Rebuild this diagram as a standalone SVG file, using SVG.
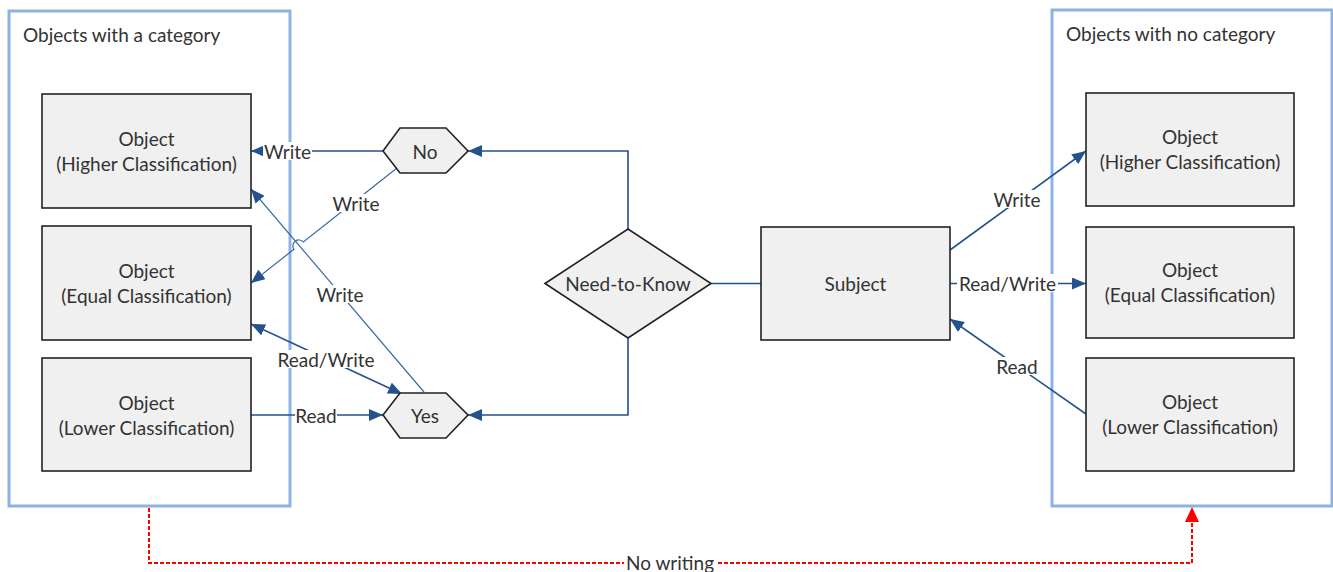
<svg xmlns="http://www.w3.org/2000/svg" width="1333" height="572" viewBox="0 0 1333 572">
  <defs>
    <marker id="arrow" viewBox="0 0 14 12" refX="14" refY="6" markerWidth="14" markerHeight="12" markerUnits="userSpaceOnUse" orient="auto-start-reverse">
      <path d="M0,0 L14,6 L0,12 Z" fill="#24528c"/>
    </marker>
  </defs>
  <style>
    .container { fill: #ffffff; stroke: #8db3e2; stroke-width: 3; }
    .box { fill: #f0f0f0; stroke: #222222; stroke-width: 1.6; }
    .txt { font-family: Lato, "Liberation Sans", sans-serif; font-size: 19px; fill: #333333; text-anchor: middle; dominant-baseline: central; }
    .title { font-family: Lato, "Liberation Sans", sans-serif; font-size: 19px; fill: #333333; }
    .conn { fill: none; stroke: #24528c; stroke-width: 1.6; }
    .thin { fill: none; stroke: #3a69a5; stroke-width: 1.2; }
    .nowrite { fill: none; stroke: #ff0000; stroke-width: 2; stroke-dasharray: 4 2; }
    .lbl { fill: #ffffff; }
  </style>

  <!-- containers -->
  <g id="group-with-category">
    <rect class="container" x="9" y="11" width="281" height="495"/>
    <text class="title" x="23" y="42">Objects with a category</text>
  </g>
  <g id="group-no-category">
    <rect class="container" x="1052" y="10" width="280" height="496"/>
    <text class="title" x="1066" y="41">Objects with no category</text>
  </g>

  <!-- connectors -->
  <g id="connectors">
    <!-- decision branches -->
    <path class="conn" d="M628,229 V151 H468" marker-end="url(#arrow)"/>
    <path class="conn" d="M628,338 V415 H468" marker-end="url(#arrow)"/>
    <path class="conn" d="M711,283.5 H761"/>

    <!-- left side -->
    <path class="conn" d="M383,151 H251" marker-end="url(#arrow)"/>
    <path class="thin" d="M397,168 L303.3,241.9 A6,6 0 0 0 293.9,249.3 L251,283" marker-end="url(#arrow)"/>
    <path class="thin" d="M424,392 L251,189" marker-end="url(#arrow)"/>
    <path class="conn" d="M251,324 L402,394" marker-start="url(#arrow)" marker-end="url(#arrow)"/>
    <path class="conn" d="M251,415 H383" marker-end="url(#arrow)"/>

    <!-- right side -->
    <path class="conn" d="M950,250 L1086,151" marker-end="url(#arrow)"/>
    <path class="conn" d="M950,283.5 H1086" marker-end="url(#arrow)"/>
    <path class="conn" d="M1086,414 L950,319" marker-end="url(#arrow)"/>

    <!-- no writing -->
    <path class="nowrite" d="M149,508 V563 H1192 V522"/>
    <path d="M1185,522 L1192,507 L1199,522 Z" fill="#ff0000"/>

    <!-- labels -->
    <rect class="lbl" x="263" y="142" width="49" height="18"/>
    <text class="txt" x="287.5" y="151">Write</text>
    <rect class="lbl" x="332" y="194" width="48" height="18"/>
    <text class="txt" x="356" y="203">Write</text>
    <rect class="lbl" x="316" y="285" width="48" height="18"/>
    <text class="txt" x="340" y="294">Write</text>
    <rect class="lbl" x="276" y="350" width="100" height="18"/>
    <text class="txt" x="326" y="359">Read/Write</text>
    <rect class="lbl" x="295" y="406" width="42" height="18"/>
    <text class="txt" x="316" y="415">Read</text>
    <rect class="lbl" x="993" y="190" width="48" height="18"/>
    <text class="txt" x="1017" y="199">Write</text>
    <rect class="lbl" x="957" y="274" width="101" height="18"/>
    <text class="txt" x="1007.5" y="283">Read/Write</text>
    <rect class="lbl" x="996" y="357" width="42" height="18"/>
    <text class="txt" x="1017" y="366">Read</text>
    <rect class="lbl" x="624" y="554" width="92" height="18"/>
    <text class="txt" x="670" y="562">No writing</text>
  </g>

  <!-- objects with a category -->
  <g id="left-higher">
    <rect class="box" x="42" y="94" width="209" height="114"/>
    <text class="txt" x="146.5" y="138">Object</text>
    <text class="txt" x="146.5" y="163">(Higher Classification)</text>
  </g>
  <g id="left-equal">
    <rect class="box" x="42" y="226" width="209" height="114"/>
    <text class="txt" x="146.5" y="270">Object</text>
    <text class="txt" x="146.5" y="295">(Equal Classification)</text>
  </g>
  <g id="left-lower">
    <rect class="box" x="42" y="358" width="209" height="113"/>
    <text class="txt" x="146.5" y="402">Object</text>
    <text class="txt" x="146.5" y="427">(Lower Classification)</text>
  </g>

  <!-- decision nodes -->
  <g id="decision-no">
    <polygon class="box" points="383,151 400,128 446,128 468,151 446,173 400,173"/>
    <text class="txt" x="425" y="151">No</text>
  </g>
  <g id="decision-yes">
    <polygon class="box" points="383,415 400,393 446,393 468,415 446,438 400,438"/>
    <text class="txt" x="425" y="415">Yes</text>
  </g>
  <g id="need-to-know">
    <polygon class="box" points="545,283.5 628,229 711,283.5 628,338"/>
    <text class="txt" x="628" y="283.5">Need-to-Know</text>
  </g>
  <g id="subject">
    <rect class="box" x="761" y="227" width="189" height="113"/>
    <text class="txt" x="855.5" y="283.5">Subject</text>
  </g>

  <!-- objects with no category -->
  <g id="right-higher">
    <rect class="box" x="1086" y="93" width="208" height="113"/>
    <text class="txt" x="1190" y="136">Object</text>
    <text class="txt" x="1190" y="161">(Higher Classification)</text>
  </g>
  <g id="right-equal">
    <rect class="box" x="1086" y="227" width="208" height="111"/>
    <text class="txt" x="1190" y="269">Object</text>
    <text class="txt" x="1190" y="294">(Equal Classification)</text>
  </g>
  <g id="right-lower">
    <rect class="box" x="1086" y="358" width="208" height="113"/>
    <text class="txt" x="1190" y="401">Object</text>
    <text class="txt" x="1190" y="426">(Lower Classification)</text>
  </g>
</svg>
